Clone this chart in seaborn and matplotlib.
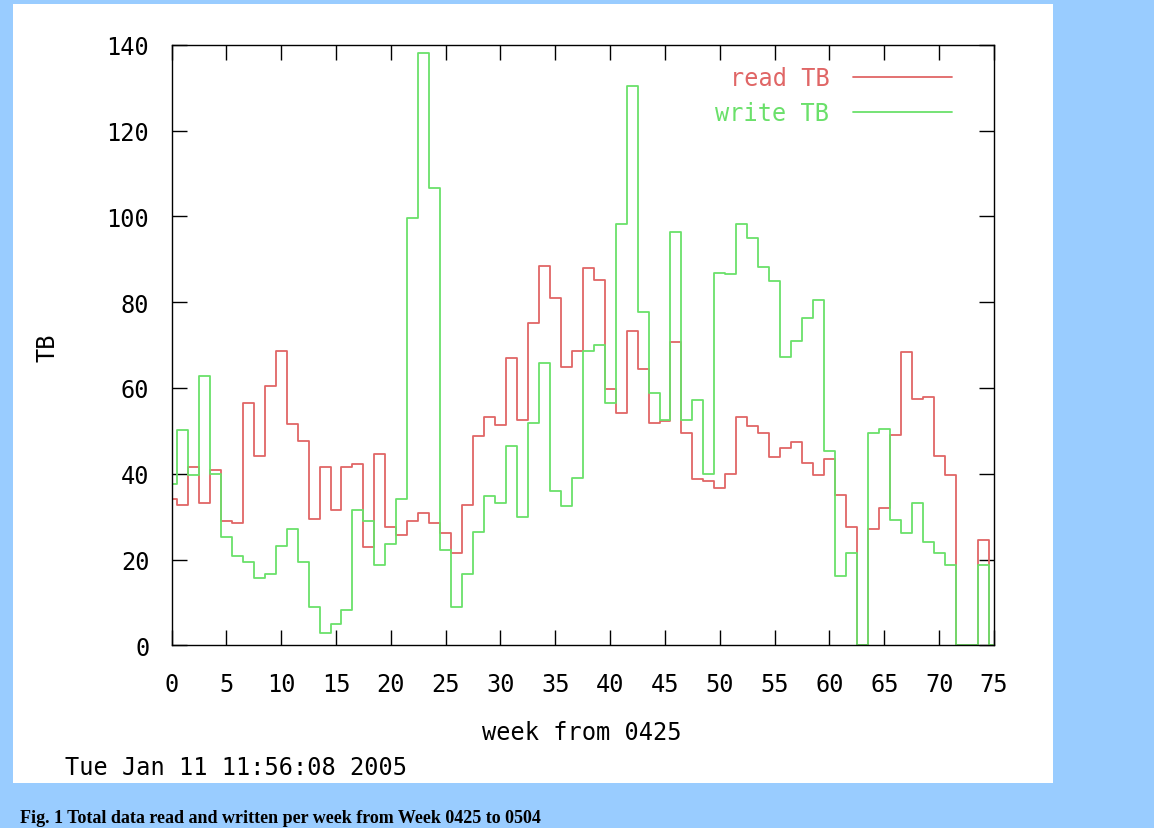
import matplotlib
matplotlib.use("Agg")
import matplotlib.pyplot as plt
from matplotlib.patches import Rectangle
from matplotlib.lines import Line2D
import pandas as pd
import seaborn as sns

# ---------------- data ----------------
weeks = list(range(0, 76))
read_tb = [34.1, 32.7, 41.6, 33.2, 40.8, 29.0, 28.6, 56.5, 44.2, 60.5,
           68.7, 51.5, 47.7, 29.4, 41.6, 31.6, 41.6, 42.3, 22.9, 44.6,
           27.6, 25.7, 29.0, 30.9, 28.6, 26.2, 21.6, 32.7, 48.8, 53.3,
           51.3, 66.9, 52.6, 75.1, 88.3, 80.9, 64.8, 68.7, 88.0, 85.1,
           59.7, 54.2, 73.2, 64.5, 51.9, 52.3, 70.6, 49.6, 38.7, 38.3,
           36.7, 40.0, 53.3, 51.1, 49.6, 43.8, 45.9, 47.3, 42.4, 39.7,
           43.5, 35.1, 27.6, 0.0, 27.2, 32.1, 49.0, 68.3, 57.4, 57.8,
           44.2, 39.7, 0.0, 0.0, 24.5, 0.0]
write_tb = [37.5, 50.3, 39.8, 62.8, 40.0, 25.3, 20.8, 19.4, 15.8, 16.6,
            23.1, 27.1, 19.4, 8.9, 2.9, 4.9, 8.3, 31.6, 29.0, 18.8,
            23.5, 34.1, 99.7, 138.1, 106.5, 22.3, 8.9, 16.6, 26.4, 34.8,
            33.2, 46.5, 29.9, 51.9, 65.7, 36.0, 32.5, 39.1, 68.7, 70.0,
            56.5, 98.2, 130.3, 77.8, 58.7, 52.5, 96.4, 52.6, 57.2, 40.0,
            86.8, 86.5, 98.2, 94.9, 88.1, 85.0, 67.1, 71.0, 76.2, 80.5,
            45.3, 16.2, 21.5, 0.0, 49.4, 50.5, 29.2, 26.2, 33.2, 24.0,
            21.6, 18.8, 0.0, 0.0, 18.8, 0.0]
series_names = ["read TB", "write TB"]
series_colors = ["#e06666", "#6ae06a"]
x_ticks = list(range(0, 80, 5))
y_ticks = list(range(0, 160, 20))
x_label = "week from 0425"
y_label = "TB"
timestamp = "Tue Jan 11 11:56:08 2005"
caption = "Fig. 1 Total data read and written per week from Week 0425 to 0504"

df = pd.DataFrame({
    "week": weeks + weeks,
    "TB": read_tb + write_tb,
    "series": [series_names[0]] * len(weeks) + [series_names[1]] * len(weeks),
})

# ---------------- style ----------------
sns.set_style("ticks")
plt.rcParams["font.family"] = ["DejaVu Sans Mono", "DejaVu Sans"]
FS = 17

W, H = 1154, 829
fig = plt.figure(figsize=(W / 100, H / 100), dpi=100, facecolor="#99ccff")
fig.patches.append(Rectangle((13 / W, 1 - 784 / H), (1053 - 13) / W, (784 - 5) / H,
                             transform=fig.transFigure, facecolor="white",
                             edgecolor="none", zorder=-5))

ax = fig.add_axes([171.5 / W, 1 - 646.3 / H, 822.5 / W, 600.6 / H])
ax.set_zorder(2)
ax.set_facecolor("white")

sns.lineplot(data=df, x="week", y="TB", hue="series",
             palette=dict(zip(series_names, series_colors)),
             drawstyle="steps-mid", linewidth=1.3, errorbar=None,
             legend=False, ax=ax)

ax.set_xlim(0, 75)
ax.set_ylim(0, 140)
ax.set_xticks(x_ticks)
ax.set_yticks(y_ticks)
ax.set_xlabel("")
ax.set_ylabel("")
for s in ax.spines.values():
    s.set_color("black")
    s.set_linewidth(1.0)
    s.set_visible(True)
ax.tick_params(direction="in", length=11, width=1.0, top=True, right=True,
               labelsize=FS, colors="black")
ax.tick_params(axis="x", pad=19)
ax.tick_params(axis="y", pad=16)

handles = [Line2D([], [], color=c, lw=1.3) for c in series_colors]
ax.legend(handles, series_names, loc="upper right",
          bbox_to_anchor=(0.949, 0.964), frameon=False, markerfirst=False,
          handlelength=4.2, handletextpad=1.0, labelcolor=series_colors,
          fontsize=FS, borderpad=0, borderaxespad=0, labelspacing=0.47)

fig.text(47 / W, 1 - 348 / H, y_label, rotation=90, ha="center", va="center",
         fontsize=FS, color="black", zorder=3)
fig.text(582 / W, 1 - 733 / H, x_label, ha="center", va="center",
         fontsize=FS, color="black", zorder=3)
fig.text(65 / W, 1 - 768 / H, timestamp, ha="left", va="center",
         fontsize=FS, color="black", zorder=3)
fig.text(20 / W, 1 - 810 / H, caption, ha="left", va="top", fontsize=13,
         fontweight="bold", family=["Liberation Serif", "DejaVu Serif"],
         color="black", zorder=3)

fig.savefig("out.png", dpi=100, facecolor=fig.get_facecolor())
